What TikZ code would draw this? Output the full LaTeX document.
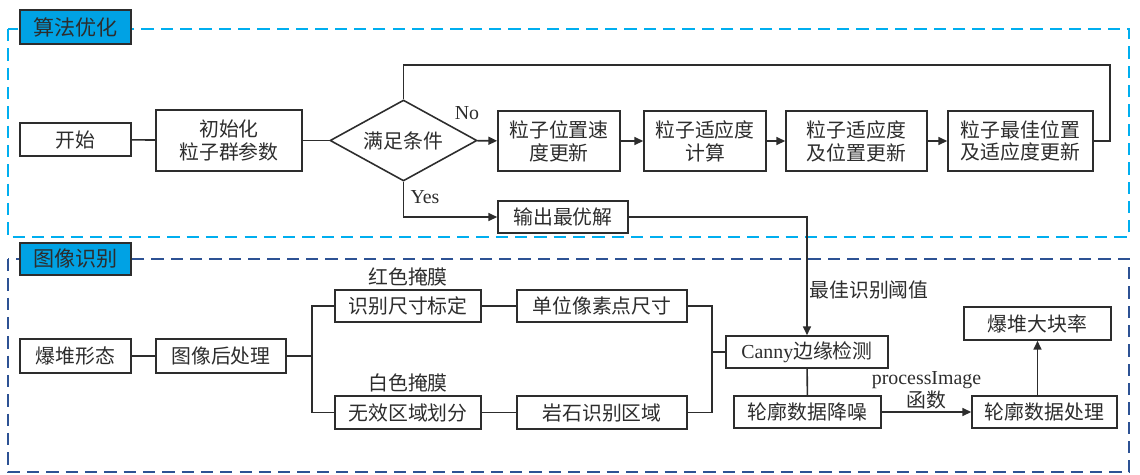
\documentclass[tikz,border=0pt]{standalone}
\usepackage{fontspec}
\setmainfont{Liberation Serif}
\newfontfamily\cjk{Noto Sans CJK SC}
\usetikzlibrary{shapes.geometric,arrows.meta}
\definecolor{optcyan}{RGB}{0,174,239}
\definecolor{titlecyan}{RGB}{0,162,228}
\definecolor{recblue}{RGB}{45,82,148}
\definecolor{linegray}{RGB}{45,45,45}

\begin{document}
\begin{tikzpicture}[x=0.02cm,y=-0.02cm,>={Triangle[length=5pt,width=4.5pt]},line width=0.9pt,color=linegray]
 \tikzstyle{procnode} = [draw,rectangle,inner sep=1pt,align=center,fill=white,font=\cjk\fontsize{11.3pt}{13pt}\selectfont]
 \tikzstyle{decnode} = [draw,diamond,aspect=2,inner sep=0pt,fill=white,minimum width=2.94cm,minimum height=1.62cm,font=\cjk\fontsize{11.3pt}{13pt}\selectfont]
 \tikzstyle{titlenode} = [draw,rectangle,fill=titlecyan,inner sep=1pt,minimum width=2.22cm,font=\cjk\fontsize{12pt}{14pt}\selectfont]
 \tikzstyle{lblnode} = [inner sep=1pt,align=center,font=\cjk\fontsize{11.3pt}{13pt}\selectfont]
 \tikzstyle{latinlbl} = [inner sep=1pt,font=\fontsize{11.3pt}{13pt}\selectfont]
 \useasboundingbox (0,0) rectangle (1140,474);

 % frames
 \draw[optcyan,line width=1.1pt,dash pattern=on 7pt off 4pt] (8,29) rectangle (1129,237);
 \draw[recblue,line width=1.1pt,dash pattern=on 7pt off 4pt] (8,259) rectangle (1129,472);
 \node[titlenode,minimum height=0.68cm] (opttitle) at (75.5,27) {算法优化};
 \node[titlenode,minimum height=0.64cm] (rectitle) at (75.5,259) {图像识别};

 % algorithm part
 \node[procnode,minimum width=2.22cm,minimum height=0.66cm] (start) at (75.5,139.5) {开始};
 \node[procnode,minimum width=2.92cm,minimum height=1.22cm] (init) at (229,140.5) {初始化\\粒子群参数};
 \node[decnode] (cond) at (403.5,140.5) {满足条件};
 \node[procnode,minimum width=2.44cm,minimum height=1.2cm] (posupd) at (559,141) {粒子位置速\\度更新};
 \node[procnode,minimum width=2.44cm,minimum height=1.2cm] (fitcalc) at (705,141) {粒子适应度\\计算};
 \node[procnode,minimum width=2.82cm,minimum height=1.2cm] (fitupd) at (856.5,141) {粒子适应度\\及位置更新};
 \node[procnode,minimum width=2.9cm,minimum height=1.2cm] (bestupd) at (1020.5,141) {粒子最佳位置\\及适应度更新};
 \node[procnode,minimum width=2.6cm,minimum height=0.64cm] (output) at (563,217) {输出最优解};
 \node[latinlbl] (nolbl) at (467,113) {No};
 \node[latinlbl] (yeslbl) at (425,197) {Yes};
 \coordinate (looptop) at (1110,65);

 \draw (start) -- (init);
 \draw (init) -- (cond);
 \draw[->] (cond) -- (posupd);
 \draw[->] (posupd) -- (fitcalc);
 \draw[->] (fitcalc) -- (fitupd);
 \draw[->] (fitupd) -- (bestupd);
 \draw (bestupd.east) -| (looptop) -| (cond.north);
 \draw[->] (cond.south) |- (output.west);

 % recognition part
 \node[procnode,minimum width=2.22cm,minimum height=0.68cm] (heap) at (75.5,356) {爆堆形态};
 \node[procnode,minimum width=2.6cm,minimum height=0.68cm] (post) at (221,356) {图像后处理};
 \node[procnode,minimum width=2.92cm,minimum height=0.64cm] (scale) at (408,306) {识别尺寸标定};
 \node[procnode,minimum width=2.92cm,minimum height=0.66cm] (invalid) at (408,412.5) {无效区域划分};
 \node[procnode,minimum width=3.4cm,minimum height=0.64cm] (pixsize) at (602,306) {单位像素点尺寸};
 \node[procnode,minimum width=3.4cm,minimum height=0.66cm] (rockreg) at (602,412.5) {岩石识别区域};
 \node[procnode,minimum width=3.24cm,minimum height=0.64cm] (canny) at (807,352) {{\rmfamily Canny}边缘检测};
 \node[procnode,minimum width=2.94cm,minimum height=0.64cm] (denoise) at (807.5,412) {轮廓数据降噪};
 \node[procnode,minimum width=2.9cm,minimum height=0.64cm] (contour) at (1044.5,412) {轮廓数据处理};
 \node[procnode,minimum width=2.94cm,minimum height=0.66cm] (blockrate) at (1037.5,323.5) {爆堆大块率};
 \node[lblnode] (redmask) at (408,277) {红色掩膜};
 \node[lblnode] (whitemask) at (408,383) {白色掩膜};
 \coordinate (split) at (312,356);
 \coordinate (merge) at (712,352);

 \draw (heap) -- (post);
 \draw (post) -- (split);
 \draw (scale.west) -| (split) |- (invalid.west);
 \draw (scale) -- (pixsize);
 \draw (invalid) -- (rockreg);
 \draw (pixsize.east) -| (merge) |- (rockreg.east);
 \draw (merge) -- (canny.west);
 \draw[->] (output.east) -| node[lblnode,right,pos=0.81] {最佳识别阈值} (canny.north);
 \draw (canny) -- (denoise);
 \draw[->] (denoise) -- node[lblnode,above] {{\rmfamily processImage}\\函数} (contour);
 \draw[->] (contour.north -| blockrate.south) -- (blockrate.south);
\end{tikzpicture}
\end{document}
